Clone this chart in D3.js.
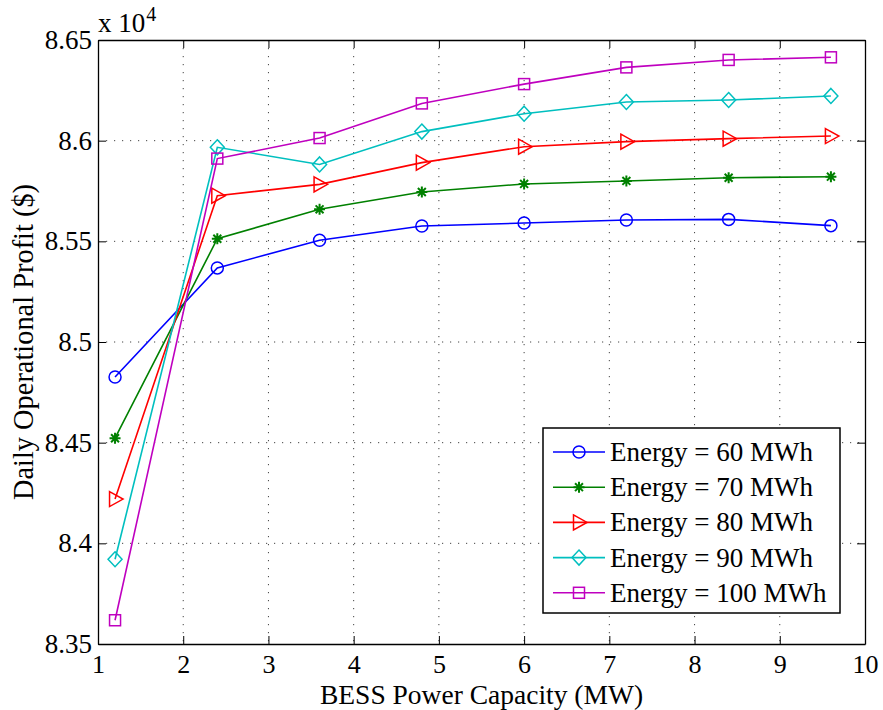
<!DOCTYPE html>
<html>
<head>
<meta charset="utf-8">
<script src="https://cdn.jsdelivr.net/npm/d3@7"></script>
<style>
  html, body { margin: 0; padding: 0; background: #fff; }
  svg { display: block; }
  text { font-family: "Liberation Serif", "Times New Roman", serif; fill: #000; }
</style>
</head>
<body>
<svg id="chart" width="883" height="710"></svg>
<script>
// BESS power capacity (MW) on the x axis
const powerMW = [1.2, 2.4, 3.6, 4.8, 6.0, 7.2, 8.4, 9.6];

// Daily operational profit, in units of 10^4 $
const profit60  = [8.4826, 8.5368, 8.5505, 8.5576, 8.5591, 8.5606, 8.5609, 8.5578];
const profit70  = [8.4522, 8.5513, 8.5659, 8.5745, 8.5785, 8.5800, 8.5816, 8.5821];
const profit80  = [8.4220, 8.5727, 8.5783, 8.5891, 8.5970, 8.5995, 8.6010, 8.6023];
const profit90  = [8.3921, 8.5967, 8.5882, 8.6045, 8.6134, 8.6192, 8.6202, 8.6222];
const profit100 = [8.3618, 8.5911, 8.6013, 8.6185, 8.6281, 8.6364, 8.6401, 8.6414];

const seriesNames = ["Energy = 60 MWh", "Energy = 70 MWh", "Energy = 80 MWh", "Energy = 90 MWh", "Energy = 100 MWh"];
const seriesValues = [profit60, profit70, profit80, profit90, profit100];
const seriesColors = ["#0000ff", "#008000", "#ff0000", "#00bfbf", "#bf00bf"];
const seriesMarkers = ["circle", "star", "triangleRight", "diamond", "square"];

const xTicks = [1, 2, 3, 4, 5, 6, 7, 8, 9, 10];
const yTicks = [8.35, 8.4, 8.45, 8.5, 8.55, 8.6, 8.65];
const xTitle = "BESS Power Capacity (MW)";
const yTitle = "Daily Operational Profit ($)";

const svg = d3.select("#chart");
const plot = { left: 98, right: 865, top: 40, bottom: 644 };

const x = d3.scaleLinear().domain([1, 10]).range([plot.left, plot.right]);
const y = d3.scaleLinear().domain([8.35, 8.65]).range([plot.bottom, plot.top]);

// Dotted grid
const grid = svg.append("g");
grid.selectAll("line.gx").data(xTicks.slice(1, -1)).join("line")
  .attr("x1", d => x(d)).attr("x2", d => x(d))
  .attr("y1", plot.top).attr("y2", plot.bottom)
  .attr("stroke", "#444").attr("stroke-width", 1).attr("stroke-dasharray", "1.2,6.8");
grid.selectAll("line.gy").data(yTicks.slice(1, -1)).join("line")
  .attr("y1", d => y(d)).attr("y2", d => y(d))
  .attr("x1", plot.left).attr("x2", plot.right)
  .attr("stroke", "#444").attr("stroke-width", 1).attr("stroke-dasharray", "1.2,6.8");

// Axes with inward ticks on all four sides
const fmtY = d => d3.format(".2f")(d).replace(/0$/, "");
const axB = svg.append("g").attr("transform", `translate(0,${plot.bottom})`)
  .call(d3.axisBottom(x).tickValues(xTicks).tickSizeInner(-8).tickSizeOuter(0).tickPadding(11).tickFormat(d3.format("d")));
const axT = svg.append("g").attr("transform", `translate(0,${plot.top})`)
  .call(d3.axisTop(x).tickValues(xTicks).tickSizeInner(-8).tickSizeOuter(0).tickFormat(""));
const axL = svg.append("g").attr("transform", `translate(${plot.left},0)`)
  .call(d3.axisLeft(y).tickValues(yTicks).tickSizeInner(-8).tickSizeOuter(0).tickPadding(6).tickFormat(fmtY));
const axR = svg.append("g").attr("transform", `translate(${plot.right},0)`)
  .call(d3.axisRight(y).tickValues(yTicks).tickSizeInner(-8).tickSizeOuter(0).tickFormat(""));

[axB, axT, axL, axR].forEach(a => {
  a.select(".domain").attr("stroke", "#000").attr("stroke-width", 1.3);
  a.selectAll(".tick line").attr("stroke", "#000").attr("stroke-width", 1);
  a.selectAll("text").attr("font-family", "Liberation Serif").attr("font-size", 27).attr("fill", "#000");
});
axB.selectAll("text").attr("font-size", 26).attr("dy", "0.71em");
axL.selectAll("text").attr("dy", "0.32em");

// Exponent label
const expo = svg.append("text").attr("x", 98).attr("y", 32).attr("font-size", 27);
expo.append("tspan").text("x 10");
expo.append("tspan").attr("font-size", 20).attr("dx", 1).attr("dy", -11).text("4");

// Axis titles
svg.append("text").attr("x", (plot.left + plot.right) / 2).attr("y", 704)
  .attr("text-anchor", "middle").attr("font-size", 27.5).text(xTitle);
svg.append("text").attr("transform", `translate(33,${(plot.top + plot.bottom) / 2}) rotate(-90)`)
  .attr("text-anchor", "middle").attr("font-size", 28.4).text(yTitle);

// Marker drawing
function drawMarker(g, type, color) {
  const sw = 1.5;
  if (type === "circle") {
    g.append("circle").attr("r", 6).attr("fill", "none").attr("stroke", color).attr("stroke-width", sw);
  } else if (type === "square") {
    g.append("rect").attr("x", -5.5).attr("y", -5.5).attr("width", 11).attr("height", 11)
      .attr("fill", "none").attr("stroke", color).attr("stroke-width", sw);
  } else if (type === "diamond") {
    g.append("path").attr("d", "M0,-7.5L7,0L0,7.5L-7,0Z")
      .attr("fill", "none").attr("stroke", color).attr("stroke-width", sw);
  } else if (type === "triangleRight") {
    g.append("path").attr("d", "M-5.5,-7.5L8,0L-5.5,7.5Z")
      .attr("fill", "none").attr("stroke", color).attr("stroke-width", sw);
  } else if (type === "star") {
    const r = 5.5;
    const d = r * 0.72;
    const p = [`M${-r},0L${r},0`, `M0,${-r}L0,${r}`, `M${-d},${-d}L${d},${d}`, `M${-d},${d}L${d},${-d}`];
    g.append("path").attr("d", p.join("")).attr("fill", "none").attr("stroke", color).attr("stroke-width", 2);
  }
}

// Series lines and markers
const line = d3.line().x(d => x(d[0])).y(d => y(d[1]));
seriesValues.forEach((vals, i) => {
  const pts = powerMW.map((p, j) => [p, vals[j]]);
  const g = svg.append("g");
  g.append("path").datum(pts).attr("d", line)
    .attr("fill", "none").attr("stroke", seriesColors[i]).attr("stroke-width", 1.6);
  pts.forEach(pt => {
    const m = g.append("g").attr("transform", `translate(${x(pt[0])},${y(pt[1])})`);
    drawMarker(m, seriesMarkers[i], seriesColors[i]);
  });
});

// Legend
const lg = { x: 543, y: 428, w: 297, h: 185 };
const legend = svg.append("g");
legend.append("rect").attr("x", lg.x).attr("y", lg.y).attr("width", lg.w).attr("height", lg.h)
  .attr("fill", "#fff").attr("stroke", "#000").attr("stroke-width", 1.5);
seriesNames.forEach((name, i) => {
  const cy = lg.y + 24 + i * 35.2;
  legend.append("line").attr("x1", lg.x + 10).attr("x2", lg.x + 62).attr("y1", cy).attr("y2", cy)
    .attr("stroke", seriesColors[i]).attr("stroke-width", 1.6);
  const m = legend.append("g").attr("transform", `translate(${lg.x + 36},${cy})`);
  drawMarker(m, seriesMarkers[i], seriesColors[i]);
  legend.append("text").attr("x", lg.x + 67).attr("y", cy).attr("dy", "0.33em")
    .attr("font-size", 27).text(name);
});
</script>
</body>
</html>
